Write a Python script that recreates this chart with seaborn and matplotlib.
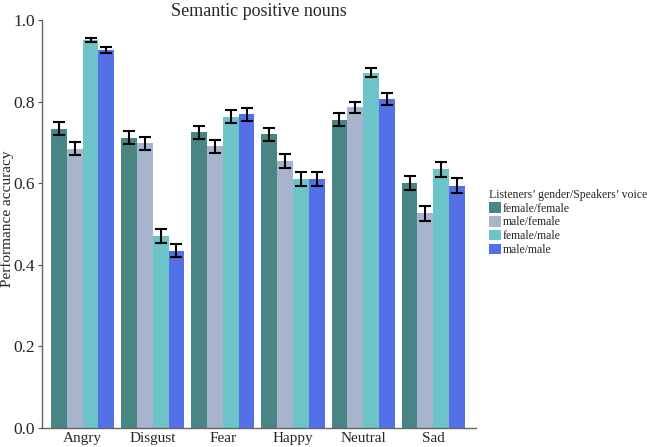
import matplotlib
matplotlib.use("Agg")
import matplotlib.pyplot as plt
import seaborn as sns
import pandas as pd
import numpy as np

emotions = ["Angry", "Disgust", "Fear", "Happy", "Neutral", "Sad"]
groups = ["female/female", "male/female", "female/male", "male/male"]
ff = [0.733, 0.711, 0.725, 0.720, 0.755, 0.600]
mf = [0.685, 0.698, 0.691, 0.654, 0.786, 0.526]
fm = [0.951, 0.471, 0.763, 0.610, 0.871, 0.634]
mm = [0.926, 0.434, 0.769, 0.610, 0.806, 0.594]
ff_err = [0.016, 0.016, 0.016, 0.016, 0.016, 0.017]
mf_err = [0.016, 0.016, 0.016, 0.017, 0.014, 0.018]
fm_err = [0.006, 0.017, 0.016, 0.018, 0.011, 0.018]
mm_err = [0.008, 0.016, 0.016, 0.018, 0.015, 0.018]
colors = ["#4a8585", "#a8b4cc", "#6cc4c8", "#5470e6"]

vals = [ff, mf, fm, mm]
errs = [ff_err, mf_err, fm_err, mm_err]
rows = []
for g, v in zip(groups, vals):
    for e, x in zip(emotions, v):
        rows.append({"emotion": e, "group": g, "acc": x})
df = pd.DataFrame(rows)

sns.set_style("white")
plt.rcParams["font.family"] = ["Liberation Serif", "DejaVu Serif"]

fig = plt.figure(figsize=(6.49, 4.47), dpi=100)
ax = fig.add_axes([42/649, 1-428/447, (476-42)/649, (428-20)/447])
sns.barplot(data=df, x="emotion", y="acc", hue="group", hue_order=groups,
            order=emotions, palette=colors, errorbar=None, width=0.9,
            saturation=1, ax=ax, linewidth=0)

for cont, err in zip(ax.containers, errs):
    xs = [b.get_x() + b.get_width()/2 for b in cont]
    ys = [b.get_height() for b in cont]
    ax.errorbar(xs, ys, yerr=err, fmt="none", ecolor="black", elinewidth=1.5,
                capsize=4, capthick=1.5)

ax.set_ylim(0, 1.0)
ax.set_xlim(-0.58, 5.61)
ax.set_yticks([0.0, 0.2, 0.4, 0.6, 0.8, 1.0])
ax.set_yticklabels(["0.0", "0.2", "0.4", "0.6", "0.8", "1.0"])
ax.tick_params(axis="y", labelsize=12.5, length=3, color="#555555", left=True, pad=2)
ax.tick_params(axis="x", labelsize=11, length=0, pad=3)
ax.set_xlabel("")
ax.set_ylabel("Performance accuracy", fontsize=11, va="center")
ax.yaxis.set_label_coords(-(42-7)/434, (428-219)/408)
fig.text(259/649, 1-11/447, "Semantic positive nouns", fontsize=13,
         ha="center", va="center")
for s in ["top", "right"]:
    ax.spines[s].set_visible(False)
for s in ["left", "bottom"]:
    ax.spines[s].set_color("#666666")
    ax.spines[s].set_linewidth(1.0)

handles, labels = ax.get_legend_handles_labels()
if ax.legend_:
    ax.legend_.remove()
leg = fig.legend(handles, labels, title="Listeners\u2019 gender/Speakers\u2019 voice",
                 loc="upper left", bbox_to_anchor=(489/649, 1-189/447),
                 frameon=False, fontsize=8.5, title_fontsize=8.5,
                 handlelength=1.0, handleheight=1.0, handletextpad=0.15,
                 labelspacing=0.12, borderpad=0, borderaxespad=0)
leg._legend_box.align = "left"

fig.savefig("out.png", dpi=100)
